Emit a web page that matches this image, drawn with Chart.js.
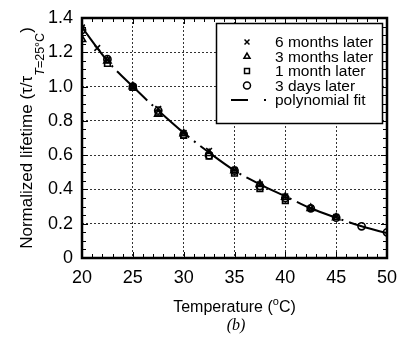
<!DOCTYPE html>
<html>
<head>
<meta charset="utf-8">
<script src="https://cdn.jsdelivr.net/npm/chart.js@4.4.1/dist/chart.umd.min.js"></script>
<style>
	html, body { margin: 0; padding: 0; background: #fff; }
	#wrap { width: 398px; height: 343px; }
</style>
</head>
<body>
<div id="wrap"><canvas id="grafico" width="398" height="343"></canvas></div>
<script>
// Dados (temperatura em °C, vida normalizada)
var temp6m = [20, 21.5, 22.5, 25, 27.5, 30, 32.5, 35, 37.5, 40, 42.5, 45];
var vida6m = [1.345, 1.225, 1.155, 1.0, 0.87, 0.73, 0.625, 0.515, 0.43, 0.36, 0.29, 0.24];

var temp3m = [20, 22.5, 25, 27.5, 30, 32.5, 35, 37.5, 40, 42.5, 45];
var vida3m = [1.275, 1.15, 1.0, 0.84, 0.725, 0.61, 0.51, 0.43, 0.355, 0.29, 0.235];

var temp1m = [22.5, 25, 27.5, 30, 32.5, 35, 37.5, 40];
var vida1m = [1.135, 0.995, 0.845, 0.715, 0.595, 0.495, 0.405, 0.335];

var temp3d = [20, 22.5, 25, 27.5, 30, 32.5, 35, 37.5, 40, 42.5, 45, 47.5, 50];
var vida3d = [1.33, 1.16, 1.0, 0.86, 0.72, 0.6, 0.51, 0.42, 0.35, 0.29, 0.235, 0.185, 0.15];

var tempFit = [20, 22.5, 25, 27.5, 30, 32.5, 35, 37.5, 40, 42.5, 45, 47.5, 50];
var vidaFit = [1.345, 1.15, 1.0, 0.86, 0.73, 0.615, 0.51, 0.43, 0.36, 0.29, 0.235, 0.185, 0.145];

var legendas = ["6 months later", "3 months later", "1 month later", "3 days later", "polynomial fit"];
var fonte = '"Liberation Sans", Arial, Helvetica, sans-serif';

function pontos(xs, ys) {
	var arr = [];
	for (var i = 0; i < xs.length; i++) {
		arr.push({ x: xs[i], y: ys[i] });
	}
	return arr;
}

function serieMarcador(nome, xs, ys, estilo, raio) {
	return {
		label: nome,
		data: pontos(xs, ys),
		showLine: false,
		pointStyle: estilo,
		pointRadius: raio,
		pointBorderColor: "#000",
		pointBackgroundColor: "rgba(255,255,255,0)",
		pointBorderWidth: 1.6,
		order: 1,
	};
}

// Moldura, marcas menores, legenda e títulos
var extras = {
	id: "extras",
	afterDraw: function (chart) {
		var ctx = chart.ctx;
		var a = chart.chartArea;
		var sx = chart.scales.x;
		var sy = chart.scales.y;

		ctx.save();
		ctx.strokeStyle = "#000";
		ctx.lineWidth = 1;
		// marcas no eixo x (a cada 1 °C)
		for (var t = 20; t <= 50; t++) {
			var px = Math.round(sx.getPixelForValue(t)) + 0.5;
			var len = t % 5 == 0 ? 6 : 4;
			ctx.beginPath();
			ctx.moveTo(px, a.bottom);
			ctx.lineTo(px, a.bottom - len);
			ctx.moveTo(px, a.top);
			ctx.lineTo(px, a.top + len);
			ctx.stroke();
		}
		// marcas no eixo y (a cada 0.05)
		for (var k = 0; k <= 28; k++) {
			var py = Math.round(sy.getPixelForValue(k * 0.05)) + 0.5;
			var leny = k % 4 == 0 ? 6 : 4;
			ctx.beginPath();
			ctx.moveTo(a.left, py);
			ctx.lineTo(a.left + leny, py);
			ctx.moveTo(a.right, py);
			ctx.lineTo(a.right - leny, py);
			ctx.stroke();
		}
		// moldura
		ctx.lineWidth = 2.5;
		ctx.strokeRect(a.left, a.top, a.right - a.left, a.bottom - a.top);

		// legenda
		var bx = 216.5, by = 23.5, bw = 166, bh = 100;
		ctx.fillStyle = "#fff";
		ctx.fillRect(bx, by, bw, bh);
		ctx.lineWidth = 1.5;
		ctx.strokeRect(bx, by, bw, bh);
		var estilos = ["crossRot", "triangle", "rect", "circle"];
		var linhas = [42, 56.5, 71, 85.5, 100];
		ctx.font = "15.5px " + fonte;
		ctx.textBaseline = "middle";
		ctx.textAlign = "left";
		for (var i = 0; i < legendas.length; i++) {
			ctx.strokeStyle = "#000";
			ctx.fillStyle = "#fff";
			if (i < 4) {
				Chart.helpers.drawPoint(ctx, { pointStyle: estilos[i], radius: 3.5, borderWidth: 1.5, rotation: 0 }, 247, linhas[i]);
			} else {
				ctx.lineWidth = 2;
				ctx.beginPath();
				ctx.moveTo(231, linhas[i]);
				ctx.lineTo(248, linhas[i]);
				ctx.moveTo(264, linhas[i]);
				ctx.lineTo(266, linhas[i]);
				ctx.stroke();
			}
			ctx.fillStyle = "#000";
			ctx.fillText(legendas[i], 275, linhas[i] + 1);
		}

		// título do eixo x
		ctx.textBaseline = "alphabetic";
		var f1 = "16px " + fonte;
		var f2 = "11px " + fonte;
		ctx.font = f1;
		var w1 = ctx.measureText("Temperature (").width;
		var w3 = ctx.measureText("C)").width;
		ctx.font = f2;
		var w2 = ctx.measureText("o").width;
		var x0 = 234.5 - (w1 + w2 + w3) / 2;
		ctx.font = f1;
		ctx.fillText("Temperature (", x0, 312);
		ctx.font = f2;
		ctx.fillText("o", x0 + w1, 305);
		ctx.font = f1;
		ctx.fillText("C)", x0 + w1 + w2, 312);

		// legenda da figura
		ctx.font = 'italic 16px "Liberation Serif", "Times New Roman", serif';
		ctx.textAlign = "center";
		ctx.fillText("(b)", 236, 330);

		// título do eixo y
		ctx.translate(32, 138);
		ctx.rotate(-Math.PI / 2);
		ctx.textAlign = "left";
		var partes = [
			{ t: "Normalized lifetime (\u03c4/\u03c4", f: "17px " + fonte, dy: 0 },
			{ t: "T", f: "italic 12.5px " + fonte, dy: 12 },
			{ t: "=25\u00b0C", f: "12.5px " + fonte, dy: 12 },
			{ t: ")", f: "17px " + fonte, dy: 0 },
		];
		var total = 0;
		for (var j = 0; j < partes.length; j++) {
			ctx.font = partes[j].f;
			partes[j].w = ctx.measureText(partes[j].t).width;
			total += partes[j].w;
		}
		var cx = -total / 2;
		for (var j = 0; j < partes.length; j++) {
			ctx.font = partes[j].f;
			ctx.fillText(partes[j].t, cx, partes[j].dy);
			cx += partes[j].w;
		}
		ctx.restore();
	},
};

var grafico = new Chart(document.getElementById("grafico"), {
	type: "scatter",
	data: {
		datasets: [
			serieMarcador(legendas[0], temp6m, vida6m, "crossRot", 4),
			serieMarcador(legendas[1], temp3m, vida3m, "triangle", 4.2),
			serieMarcador(legendas[2], temp1m, vida1m, "rect", 4),
			serieMarcador(legendas[3], temp3d, vida3d, "circle", 3.6),
			{
				label: legendas[4],
				data: pontos(tempFit, vidaFit),
				showLine: true,
				borderColor: "#000",
				borderWidth: 2,
				borderDash: [42, 6, 2, 6],
				pointRadius: 0,
				cubicInterpolationMode: "monotone",
				order: 2,
			},
		],
	},
	options: {
		responsive: false,
		animation: false,
		devicePixelRatio: 1,
		layout: { padding: { left: 0, top: 18, right: 11, bottom: 0 } },
		plugins: { legend: { display: false }, tooltip: { enabled: false } },
		scales: {
			x: {
				type: "linear",
				min: 20,
				max: 50,
				afterFit: function (s) {
					s.height = 85;
					s.paddingLeft = 0;
					s.paddingRight = 0;
				},
				ticks: { stepSize: 5, color: "#000", padding: 9, font: { family: fonte, size: 18 } },
				grid: { color: "#333", lineWidth: 1, drawTicks: false },
				border: { display: false, dash: [2, 2] },
			},
			y: {
				min: 0,
				max: 1.4,
				afterFit: function (s) {
					s.width = 82;
					s.paddingTop = 0;
					s.paddingBottom = 0;
				},
				ticks: {
					stepSize: 0.2,
					color: "#000",
					padding: 9,
					font: { family: fonte, size: 18 },
					callback: function (v) { return v == 0 ? "0" : v.toFixed(1); },
				},
				grid: { color: "#333", lineWidth: 1, drawTicks: false },
				border: { display: false, dash: [2, 2] },
			},
		},
	},
	plugins: [extras],
});
</script>
</body>
</html>
